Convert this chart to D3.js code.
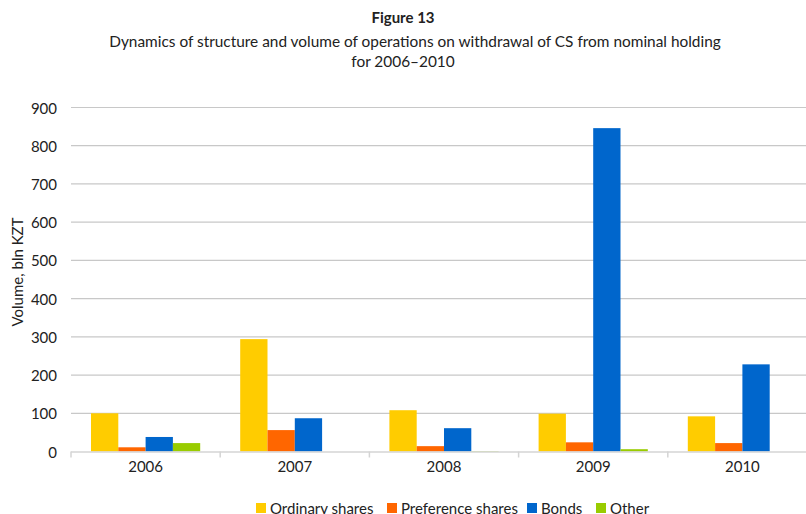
<!DOCTYPE html>
<html lang="en">
<head>
<meta charset="utf-8">
<title>Figure 13</title>
<script src="https://d3js.org/d3.v7.min.js"></script>
<style>
	body { margin: 0; background: #fff; }
	text { font-family: "Lato", "Open Sans", sans-serif; fill: #222; }
</style>
</head>
<body>
<script>
// data
var years = ["2006", "2007", "2008", "2009", "2010"];
var seriesNames = ["Ordinary shares", "Preference shares", "Bonds", "Other"];
var ordinary = [100, 294, 108, 99, 92];
var preference = [11, 56, 14, 24, 22];
var bonds = [38, 87, 61, 846, 228];
var other = [22, 0, 1, 6, 0];
var yTicks = [0, 100, 200, 300, 400, 500, 600, 700, 800, 900];
var colors = ["#ffcc00", "#ff6600", "#0066cc", "#99cc00"];

var values = [ordinary, preference, bonds, other];

var width = 806, height = 514;
var svg = d3.select("body").append("svg")
	.attr("width", width)
	.attr("height", height);

// plot area (right edge runs off the picture, like the original)
var plotLeft = 71, plotRight = 817, plotTop = 107.5, plotBottom = 451.5;

var x = d3.scaleBand().domain(years).range([plotLeft, plotRight]);
var sub = d3.scaleBand().domain(seriesNames)
	.range([20, x.bandwidth() - 20]);
var y = d3.scaleLinear().domain([0, 900]).range([plotBottom, plotTop]);

// gridlines
svg.append("g").selectAll("line")
	.data(yTicks.filter(function(d) { return d > 0; }))
	.enter().append("line")
	.attr("x1", plotLeft).attr("x2", 808)
	.attr("y1", function(d) { return y(d); })
	.attr("y2", function(d) { return y(d); })
	.attr("stroke", "#c8c8c8")
	.attr("stroke-width", 1.2);

// y tick labels
svg.append("g").selectAll("text")
	.data(yTicks)
	.enter().append("text")
	.attr("x", 57)
	.attr("y", function(d) { return y(d) + 6; })
	.attr("text-anchor", "end")
	.style("font-size", "15px")
	.text(function(d) { return d; });

// bars
values.forEach(function(vals, si) {
	svg.append("g").selectAll("rect")
		.data(vals)
		.enter().append("rect")
		.attr("x", function(d, i) { return x(years[i]) + sub(seriesNames[si]); })
		.attr("width", sub.bandwidth())
		.attr("y", function(d) { return y(d); })
		.attr("height", function(d) { return plotBottom - y(d); })
		.attr("fill", colors[si]);
});

// x axis line and ticks
svg.append("line")
	.attr("x1", plotLeft).attr("x2", 808)
	.attr("y1", plotBottom + 0.5).attr("y2", plotBottom + 0.5)
	.attr("stroke", "#d4d4d4").attr("stroke-width", 1.5);
svg.append("g").selectAll("line")
	.data(years)
	.enter().append("line")
	.attr("x1", function(d) { return x(d); })
	.attr("x2", function(d) { return x(d); })
	.attr("y1", plotBottom).attr("y2", plotBottom + 6)
	.attr("stroke", "#d4d4d4").attr("stroke-width", 1.5);

svg.append("g").selectAll("text")
	.data(years)
	.enter().append("text")
	.attr("x", function(d) { return x(d) + x.bandwidth() / 2; })
	.attr("y", 472)
	.attr("text-anchor", "middle")
	.style("font-size", "15px")
	.text(function(d) { return d; });

// y axis title
svg.append("text")
	.attr("transform", "translate(23,272) rotate(-90)")
	.attr("text-anchor", "middle")
	.style("font-size", "15px")
	.text("Volume, bln KZT");

// titles
svg.append("text")
	.attr("x", 403).attr("y", 23)
	.attr("text-anchor", "middle")
	.style("font-size", "15px")
	.style("font-weight", "bold")
	.text("Figure 13");
svg.append("text")
	.attr("x", 415).attr("y", 47)
	.attr("text-anchor", "middle")
	.style("font-size", "15.4px")
	.text("Dynamics of structure and volume of operations on withdrawal of CS from nominal holding");
svg.append("text")
	.attr("x", 403).attr("y", 67)
	.attr("text-anchor", "middle")
	.style("font-size", "15.4px")
	.text("for 2006\u20132010");

// legend (bottom line is clipped by the frame, as in the original)
var legendX = [256, 387, 527, 596];
var legend = svg.append("g").selectAll("g")
	.data(seriesNames)
	.enter().append("g")
	.attr("transform", function(d, i) { return "translate(" + legendX[i] + ",503)"; });
legend.append("rect")
	.attr("width", 10).attr("height", 10)
	.attr("fill", function(d, i) { return colors[i]; });
legend.append("text")
	.attr("x", 14).attr("y", 11)
	.style("font-size", "15px")
	.text(function(d) { return d; });
</script>
</body>
</html>
